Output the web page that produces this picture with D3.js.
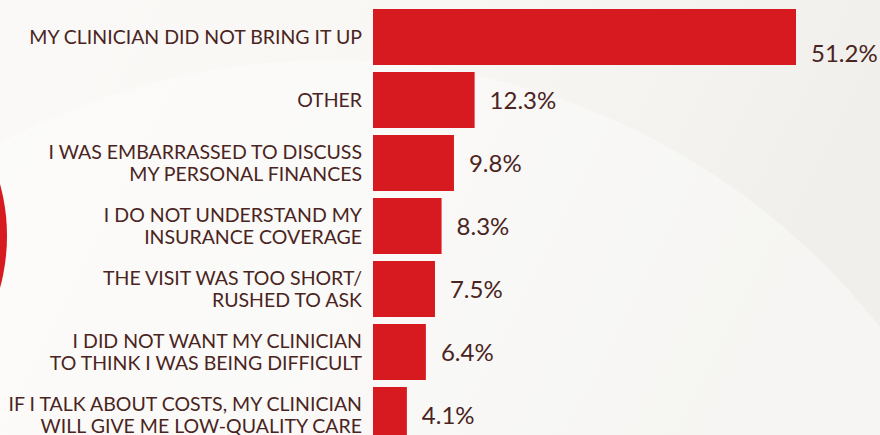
<!DOCTYPE html>
<html>
<head>
<meta charset="utf-8">
<script src="https://cdn.jsdelivr.net/npm/d3@7"></script>
<style>
  html, body { margin: 0; padding: 0; overflow: hidden; }
  body { width: 880px; height: 435px; }
  svg { display: block; }
</style>
</head>
<body>
<svg id="chart" width="880" height="435"></svg>
<script>
const categories = [
  "MY CLINICIAN DID NOT BRING IT UP",
  "OTHER",
  "I WAS EMBARRASSED TO DISCUSS\nMY PERSONAL FINANCES",
  "I DO NOT UNDERSTAND MY\nINSURANCE COVERAGE",
  "THE VISIT WAS TOO SHORT/\nRUSHED TO ASK",
  "I DID NOT WANT MY CLINICIAN\nTO THINK I WAS BEING DIFFICULT",
  "IF I TALK ABOUT COSTS, MY CLINICIAN\nWILL GIVE ME LOW-QUALITY CARE"
];
const values = [51.2, 12.3, 9.8, 8.3, 7.5, 6.4, 4.1];
const valueLabels = ["51.2%", "12.3%", "9.8%", "8.3%", "7.5%", "6.4%", "4.1%"];

const W = 880, H = 435;
const svg = d3.select("#chart");
const defs = svg.append("defs");
const grad = defs.append("linearGradient").attr("id", "bg")
  .attr("x1", "0").attr("y1", "0").attr("x2", "1").attr("y2", "0.25");
grad.append("stop").attr("offset", "0").attr("stop-color", "#faf9f7");
grad.append("stop").attr("offset", "0.5").attr("stop-color", "#f8f7f4");
grad.append("stop").attr("offset", "1").attr("stop-color", "#f0efeb");
svg.append("rect").attr("width", W).attr("height", H).attr("fill", "url(#bg)");

// decorative background shapes
svg.append("circle").attr("cx", 330).attr("cy", 760).attr("r", 700)
  .attr("fill", "#fdfdfc").attr("opacity", 0.45);
svg.append("circle").attr("cx", -190).attr("cy", 236).attr("r", 197)
  .attr("fill", "#d71920");

const x0 = 373;
const x = d3.scaleLinear().domain([0, 51.2]).range([x0, 796]);
const y = d3.scaleBand().domain(categories).range([5.5, 446.5])
  .paddingInner(7 / 63).paddingOuter(3.5 / 63);

const textColor = "#4a2421";
const font = "Lato, 'Open Sans', sans-serif";

const g = svg.append("g");
g.selectAll("rect.bar").data(values).join("rect")
  .attr("class", "bar")
  .attr("x", x(0))
  .attr("y", (d, i) => y(categories[i]))
  .attr("width", d => x(d) - x(0))
  .attr("height", y.bandwidth())
  .attr("fill", "#d71920");

// category labels
const lineH = 22;
g.selectAll("text.cat").data(categories).join("text")
  .attr("class", "cat")
  .attr("text-anchor", "end")
  .attr("font-family", font)
  .attr("font-size", 19.5)
  .attr("fill", textColor)
  .each(function (d) {
    const lines = d.split("\n");
    const cy = y(d) + y.bandwidth() / 2;
    const startY = cy - (lines.length - 1) * lineH / 2;
    d3.select(this).selectAll("tspan").data(lines).join("tspan")
      .attr("x", 362)
      .attr("y", (l, k) => startY + k * lineH)
      .attr("dy", "0.37em")
      .text(l => l);
  });

// value labels
const maxV = d3.max(values);
g.selectAll("text.val").data(values).join("text")
  .attr("class", "val")
  .attr("x", d => x(d) + 15)
  .attr("y", (d, i) => d === maxV
      ? y(categories[i]) + y.bandwidth() - 3
      : y(categories[i]) + y.bandwidth() / 2)
  .attr("dy", (d) => d === maxV ? "0em" : "0.36em")
  .attr("font-family", font)
  .attr("font-size", 24)
  .attr("fill", textColor)
  .text((d, i) => valueLabels[i]);
</script>
</body>
</html>
